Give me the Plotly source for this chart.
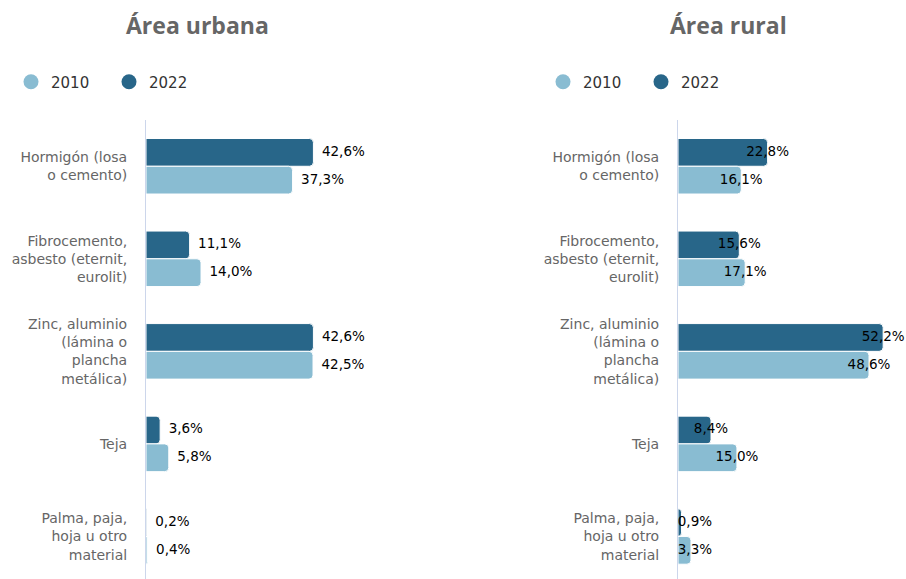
import plotly.graph_objects as go

# Roof material shares (%), urban and rural areas
categorias = [
    "Hormigón (losa<br>o cemento)",
    "Fibrocemento,<br>asbesto (eternit,<br>eurolit)",
    "Zinc, aluminio<br>(lámina o<br>plancha<br>metálica)",
    "Teja",
    "Palma, paja,<br>hoja u otro<br>material",
]
urbana_2010 = [37.3, 14.0, 42.5, 5.8, 0.4]
urbana_2022 = [42.6, 11.1, 42.6, 3.6, 0.2]
rural_2010 = [16.1, 17.1, 48.6, 15.0, 3.3]
rural_2022 = [22.8, 15.6, 52.2, 8.4, 0.9]
anios = ["2010", "2022"]

C2010 = "#89bcd2"
C2022 = "#286689"
W, H = 906, 579
PX_PER_PCT = 3.93
BAR_W = 0.3

pos = list(range(len(categorias)))


def fmt(v):
    return f"{v:.1f}".replace(".", ",") + "%"


fig = go.Figure()

panels = [
    ("x", "y", urbana_2010, urbana_2022, "legend", "outside"),
    ("x2", "y2", rural_2010, rural_2022, "legend2", "center"),
]

for xa, ya, v10, v22, leg, mode in panels:
    for vals, color, off in ((v22, C2022, -BAR_W), (v10, C2010, 0.0)):
        fig.add_trace(go.Bar(
            y=pos, x=vals, orientation="h", xaxis=xa, yaxis=ya,
            marker=dict(color=color, line=dict(color="white", width=1)),
            width=BAR_W, offset=off, showlegend=False, hoverinfo="skip",
        ))
        ty = [p + off + BAR_W / 2 for p in pos]
        if mode == "outside":
            tx = vals
            tpos = "middle right"
            tmode = "markers+text"
        else:
            tx = [max(v, 4.3) for v in vals]
            tpos = "middle center"
            tmode = "text"
        fig.add_trace(go.Scatter(
            x=tx, y=ty, xaxis=xa, yaxis=ya, mode=tmode,
            marker=dict(size=12, opacity=0),
            text=[fmt(v) for v in vals], textposition=tpos,
            textfont=dict(family="DejaVu Sans", size=13.5, color="#000000"),
            cliponaxis=False, showlegend=False, hoverinfo="skip",
        ))
    # legend entries drawn as circles
    for name, color in zip(anios, (C2010, C2022)):
        fig.add_trace(go.Scatter(
            x=[None], y=[None], xaxis=xa, yaxis=ya, mode="markers", name=name,
            marker=dict(color=color, size=15, symbol="circle"),
            legend=leg, showlegend=True,
        ))

ydom = [0, 1 - 120 / H]
urb_x0, urb_x1 = 146 / W, 420 / W
rur_x0, rur_x1 = 678 / W, 1.0

yax = dict(
    tickmode="array", tickvals=pos, ticktext=categorias,
    range=[4.46, -0.5], showgrid=False, zeroline=False,
    showline=True, linecolor="#ccd6eb", linewidth=1,
    ticks="", ticklabelstandoff=15,
    tickfont=dict(family="DejaVu Sans", size=14, color="#666666"),
    domain=ydom, automargin=False,
)
xax = dict(showgrid=False, zeroline=False, showticklabels=False, showline=False,
           ticks="", automargin=False)

legend_common = dict(
    orientation="h", yanchor="middle", y=1 - 82 / H, xanchor="left",
    font=dict(family="DejaVu Sans", size=15, color="#333333"),
    entrywidthmode="pixels", entrywidth=53, bgcolor="rgba(0,0,0,0)",
    itemclick=False, itemdoubleclick=False,
)

fig.update_layout(
    width=W, height=H,
    margin=dict(l=0, r=0, t=0, b=0),
    paper_bgcolor="white", plot_bgcolor="white",
    barmode="overlay", barcornerradius=4,
    xaxis=dict(xax, domain=[urb_x0, urb_x1], range=[0, (420 - 146) / PX_PER_PCT]),
    xaxis2=dict(xax, domain=[rur_x0, rur_x1], range=[0, (906 - 678) / PX_PER_PCT]),
    yaxis=dict(yax, anchor="x"),
    yaxis2=dict(yax, anchor="x2"),
    legend=dict(legend_common, x=11 / W),
    legend2=dict(legend_common, x=543 / W),
    annotations=[
        dict(text="<b>Área urbana</b>", x=197 / W, y=1 - 25 / H, xref="paper", yref="paper",
             showarrow=False, xanchor="center", yanchor="middle",
             font=dict(family="Open Sans", size=23, color="#666666")),
        dict(text="<b>Área rural</b>", x=728 / W, y=1 - 25 / H, xref="paper", yref="paper",
             showarrow=False, xanchor="center", yanchor="middle",
             font=dict(family="Open Sans", size=23, color="#666666")),
    ],
)

fig.write_html("out.html")
